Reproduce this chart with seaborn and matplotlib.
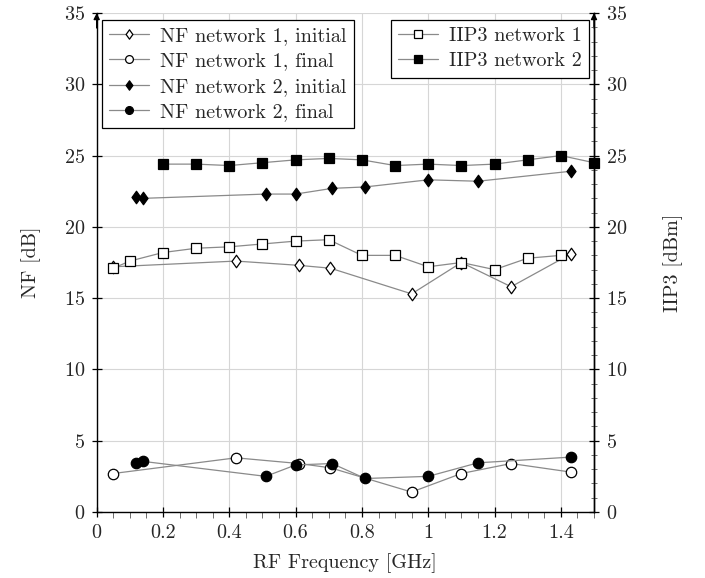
import pandas as pd
import matplotlib
matplotlib.use("Agg")
import matplotlib.pyplot as plt
from matplotlib.ticker import MultipleLocator, FuncFormatter
from matplotlib.path import Path
import seaborn as sns

# NF network 1 (initial / final)
nf1_freq = [0.05, 0.42, 0.61, 0.705, 0.95, 1.10, 1.25, 1.43]
nf1_initial = [17.2, 17.6, 17.3, 17.1, 15.3, 17.5, 15.8, 18.1]
nf1_final = [2.7, 3.8, 3.4, 3.1, 1.4, 2.7, 3.4, 2.8]

# NF network 2 (initial / final)
nf2_freq = [0.12, 0.14, 0.51, 0.60, 0.71, 0.81, 1.00, 1.15, 1.43]
nf2_initial = [22.1, 22.0, 22.3, 22.3, 22.7, 22.8, 23.3, 23.2, 23.9]
nf2_final = [3.45, 3.55, 2.5, 3.3, 3.4, 2.35, 2.5, 3.45, 3.85]

# IIP3
iip3_1_freq = [0.05, 0.1, 0.2, 0.3, 0.4, 0.5, 0.6, 0.7, 0.8, 0.9, 1.0, 1.1, 1.2, 1.3, 1.4]
iip3_1 = [17.1, 17.6, 18.2, 18.5, 18.6, 18.8, 19.0, 19.1, 18.0, 18.0, 17.2, 17.5, 17.0, 17.8, 18.0]
iip3_2_freq = [0.2, 0.3, 0.4, 0.5, 0.6, 0.7, 0.8, 0.9, 1.0, 1.1, 1.2, 1.3, 1.4, 1.5]
iip3_2 = [24.4, 24.4, 24.3, 24.5, 24.7, 24.8, 24.7, 24.3, 24.4, 24.3, 24.4, 24.7, 25.0, 24.5]

sns.set_theme(style="white")
plt.rcParams["font.family"] = "serif"
plt.rcParams["font.serif"] = ["cmr10"]
plt.rcParams["mathtext.fontset"] = "cm"
plt.rcParams["axes.formatter.use_mathtext"] = True
fs = 14.5

# pgfplots-like diamond (a bit wider than matplotlib's thin diamond)
diamond = Path([(0, 1), (0.72, 0), (0, -1), (-0.72, 0), (0, 1)],
               [Path.MOVETO, Path.LINETO, Path.LINETO, Path.LINETO, Path.CLOSEPOLY])

fig, ax = plt.subplots(figsize=(7.05, 5.78), dpi=100)
fig.subplots_adjust(left=96.7 / 705, right=594 / 705, bottom=66 / 578, top=565 / 578)
ax2 = ax.twinx()

line_col = "#8a8a8a"
common = dict(estimator=None, sort=False, color=line_col, linewidth=0.9,
              markeredgecolor="black", markeredgewidth=0.9, clip_on=False)

sns.lineplot(x=nf1_freq, y=nf1_initial, ax=ax, marker=diamond, markersize=9,
             markerfacecolor="white", label="NF network 1, initial", **common)
sns.lineplot(x=nf1_freq, y=nf1_final, ax=ax, marker="o", markersize=7.5,
             markerfacecolor="white", label="NF network 1, final", **common)
sns.lineplot(x=nf2_freq, y=nf2_initial, ax=ax, marker=diamond, markersize=9,
             markerfacecolor="black", label="NF network 2, initial", **common)
sns.lineplot(x=nf2_freq, y=nf2_final, ax=ax, marker="o", markersize=7.5,
             markerfacecolor="black", label="NF network 2, final", **common)

sns.lineplot(x=iip3_1_freq, y=iip3_1, ax=ax2, marker="s", markersize=7.5,
             markerfacecolor="white", label="IIP3 network 1", **common)
sns.lineplot(x=iip3_2_freq, y=iip3_2, ax=ax2, marker="s", markersize=7.5,
             markerfacecolor="black", label="IIP3 network 2", **common)

for a in (ax, ax2):
    a.set_xlim(0, 1.5)
    a.set_ylim(0, 35)
    a.yaxis.set_major_locator(MultipleLocator(5))
    a.spines["top"].set_visible(False)
    for s in a.spines.values():
        s.set_color("black")
        s.set_linewidth(1.0)

ax.xaxis.set_major_locator(MultipleLocator(0.2))
ax.xaxis.set_minor_locator(MultipleLocator(0.05))
ax.xaxis.set_major_formatter(FuncFormatter(lambda v, p: "%g" % round(v, 3)))
ax2.yaxis.set_minor_locator(MultipleLocator(1))

ax.grid(True, which="major", color="#d6d6d6", linewidth=0.8)
ax.set_axisbelow(True)
ax2.spines["left"].set_visible(False)
ax2.spines["bottom"].set_visible(False)

ax.tick_params(axis="both", which="major", direction="inout", length=7, width=0.9,
               color="black", labelsize=fs, pad=5, bottom=True, left=True)
ax.tick_params(axis="x", which="minor", direction="out", length=4, width=0.6,
               color="#555555", bottom=True)
ax2.tick_params(axis="y", which="major", direction="inout", length=7, width=0.9,
                color="black", labelsize=fs, pad=5, right=True)
ax2.tick_params(axis="y", which="minor", direction="inout", length=4, width=0.6,
                color="#555555", right=True)

ax.set_xlabel("RF Frequency [GHz]", fontsize=fs, labelpad=8)
ax.set_ylabel("NF [dB]", fontsize=fs, labelpad=16)
ax2.set_ylabel("IIP3 [dBm]", fontsize=fs, labelpad=26)

# arrow heads on the vertical axes
for xa in (0, 1):
    ax.annotate("", xy=(xa, 1.0), xytext=(xa, 0.97), xycoords="axes fraction",
                arrowprops=dict(arrowstyle="-|>", color="black", lw=1.0,
                                mutation_scale=9, shrinkA=0, shrinkB=0))

leg_kw = dict(fontsize=fs, frameon=True, fancybox=False, edgecolor="black",
              framealpha=1, borderaxespad=0, handlelength=2.0, labelspacing=0.36,
              handletextpad=0.55, borderpad=0.35, markerscale=0.75)
leg1 = ax.legend(loc="upper left", bbox_to_anchor=(0.0107, 0.986), **leg_kw)
leg2 = ax2.legend(loc="upper right", bbox_to_anchor=(0.99, 0.986), **leg_kw)
for lg in (leg1, leg2):
    lg.get_frame().set_linewidth(0.9)

fig.savefig("out.png", dpi=100)
